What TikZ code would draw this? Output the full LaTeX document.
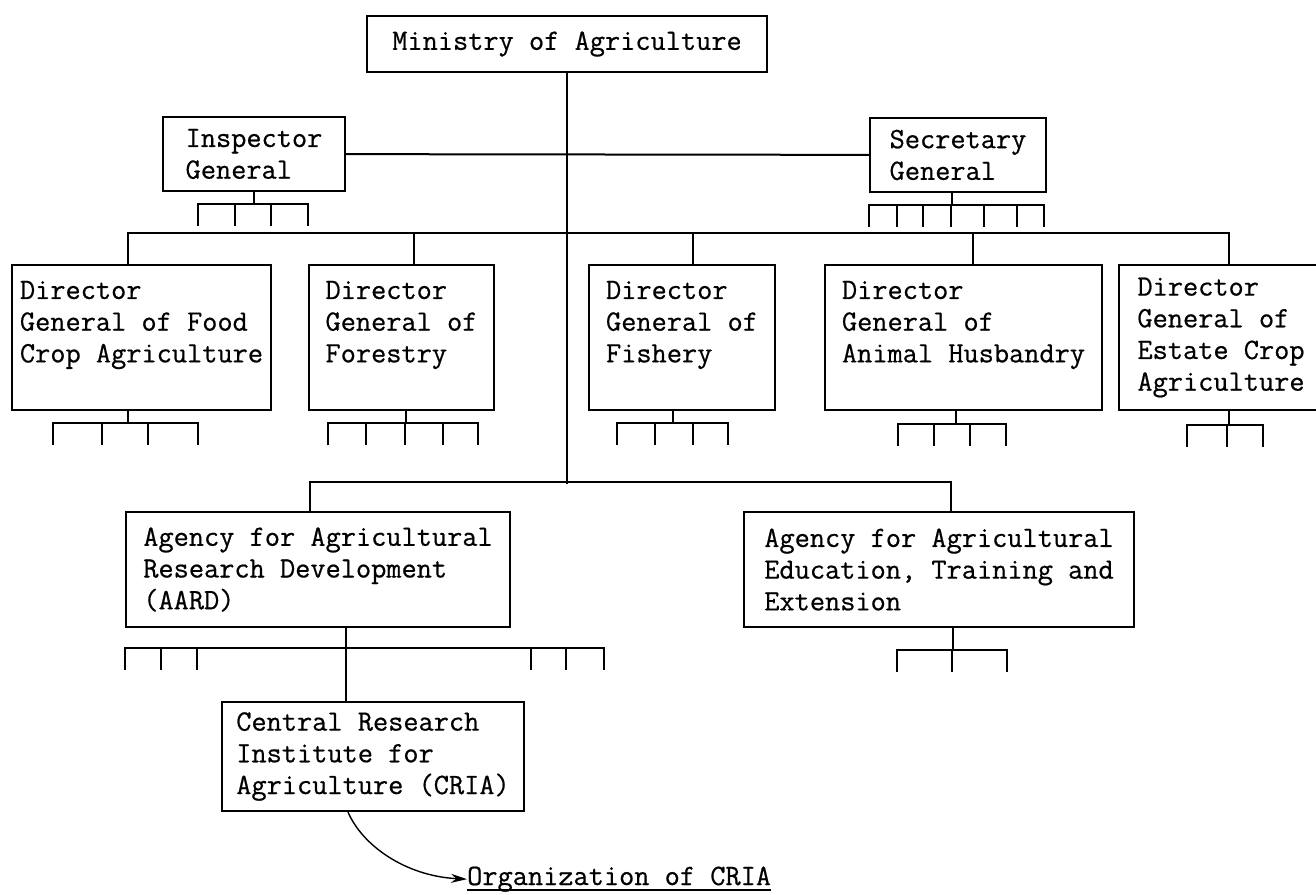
\documentclass[tikz,border=0pt]{standalone}
\usepackage{fontspec}
\setmonofont[FakeBold=0.6]{Latin Modern Mono}
\usepackage{tikz}
\usetikzlibrary{positioning,arrows.meta}
\newcommand{\typed}{\ttfamily\fontsize{29.5}{31.7}\selectfont}
\tikzstyle{arrow} = [line width=1.4pt,-{Stealth[length=16pt,width=9pt]}]
\tikzset{
 unit/.style
  = {draw, line width=2pt, anchor=north west, align=left, inner sep=0pt,
     font=\typed},
 dg/.style
  = {unit, minimum height=145pt},
 agency/.style
  = {unit, minimum height=115pt},
 note/.style
  = {anchor=base west, inner sep=0pt, font=\typed},
 link/.style
  = {draw, line width=2pt},
}
% stem from a unit down to a bar of sub-units
\newcommand{\subunits}[5]{%
  \draw[link] (#1) -- (#1 |- 0,#2);
  \draw[link] (#3,#2+22) |- (#4,#2) -- (#4,#2+22);
  \foreach \tx in {#5} \draw[link] (\tx,#2) -- (\tx,#2+22);
}

\begin{document}
\begin{tikzpicture}[x=1pt, y=-1pt]

\useasboundingbox (0,0) rectangle (1316,894);
\clip (0,0) rectangle (1316,894);

% Ministry
\node[unit, minimum width=400pt, minimum height=56pt] (min) at (366,15) {Ministry of Agriculture};

% Inspector and Secretary
\node[unit, minimum width=182pt, minimum height=74pt] (ig) at (162,116) {Inspector\\General};
\node[unit, minimum width=176pt, minimum height=74pt] (sg) at (869,117) {Secretary\\General};

% Directors General
\node[dg, minimum width=259pt] (dfood) at (11,264) {Director\\General of Food\\Crop Agriculture\\\mbox{}};
\node[dg, minimum width=185pt] (dfor) at (308,264) {Director\\General of\\Forestry\\\mbox{}};
\node[dg, minimum width=186pt] (dfish) at (588,264) {Director\\General of\\Fishery\\\mbox{}};
\node[dg, minimum width=277pt] (danim) at (824,264) {Director\\General of\\Animal Husbandry\\\mbox{}};
\node[dg, minimum width=204pt] (destate) at (1118,264) {Director\\General of\\Estate Crop\\Agriculture};

% Agencies
\node[agency, minimum width=384pt] (aard) at (125,511) {Agency for Agricultural\\Research Development\\(AARD)};
\node[agency, minimum width=390pt] (aete) at (743,511) {Agency for Agricultural\\Education, Training and\\Extension};

% CRIA
\node[unit, minimum width=302pt, minimum height=109pt] (cria) at (221,701) {Central Research\\Institute for\\Agriculture (CRIA)};
\node[note] (orgcria) at (467,885) {Organization of CRIA};
\draw[line width=1.6pt] ([yshift=-5pt]orgcria.base west) -- ([yshift=-5pt]orgcria.base east);

% main line and staff
\draw[link] (min.south) -- ++(0,411);
\draw[link] (ig) -- (sg);

% bus to the directors
\draw[link] ([xshift=-14pt]dfood.north) -- ++(0,-31) -| ([xshift=8pt]destate.north);
\foreach \n/\s in {dfor/12, dfish/11, danim/9}
  \draw[link] ([xshift=\s pt]\n.north) -- ++(0,-31);

% bus to the agencies
\draw[link] ([xshift=-8pt]aard.north) -- ++(0,-29) -| ([xshift=12pt]aete.north);
\draw[link] ([xshift=28pt]aard.south) -- ([xshift=28pt]aard.south |- cria.north);

% sub-units
\subunits{ig.south}{204}{198}{308}{235,271}
\subunits{[xshift=-6pt]sg.south}{205}{869}{1044}{897,923,951,984,1017}
\subunits{[xshift=-14pt]dfood.south}{423}{53}{198}{102,148}
\subunits{[xshift=4pt]dfor.south}{423}{328}{478}{366,405,443}
\subunits{[xshift=-9pt]dfish.south}{423}{617}{728}{655,693}
\subunits{[xshift=-8pt]danim.south}{424}{898}{1006}{934,970}
\subunits{[xshift=8pt]destate.south}{425}{1187}{1263}{1227}
\subunits{[xshift=28pt]aard.south}{648}{125}{604}{161,197,531,566}
\subunits{[xshift=14pt]aete.south}{650}{897}{1007}{952}

% pointer to the CRIA chart
\draw[arrow] ([xshift=-25pt]cria.south) .. controls (362,845) and (405,876) .. (orgcria.west);

\end{tikzpicture}
\end{document}
